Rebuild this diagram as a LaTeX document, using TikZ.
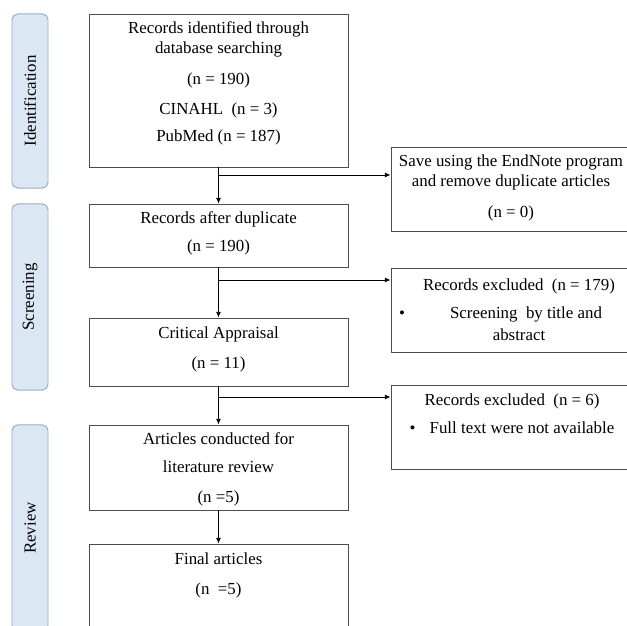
\documentclass[tikz,border=0pt]{standalone}
\usepackage{fontspec}
\setmainfont{Liberation Serif}
\usetikzlibrary{arrows.meta,fit}

\definecolor{sidefill}{RGB}{220,231,244}
\definecolor{sideline}{RGB}{150,174,200}

\tikzset{
  box/.style={draw=black!70, line width=0.7pt, inner sep=0pt},
  sidebox/.style={draw=sideline, fill=sidefill, line width=0.7pt, rounded corners=4pt,
    rotate=90, minimum height=0.9cm, inner sep=0pt},
  txt/.style={align=center, inner sep=0pt},
  arr/.style={-{Latex[length=4pt,width=3.5pt]}, line width=0.6pt},
}

\begin{document}
\begin{tikzpicture}[x=0.025cm, y=-0.025cm, font=\fontsize{12}{14.4}\selectfont]
  \useasboundingbox (0,0) rectangle (627,626);

  % stage labels on the left
  \node[sidebox, minimum width=4.35cm] (sid) at (30,101) {Identification};
  \node[sidebox, minimum width=4.65cm] (sscr) at (30,297) {Screening};
  \node[sidebox, minimum width=5.15cm] (srev) at (30,528) {Review};

  % main column
  \node[box, fit={(89,14) (348,167)}] (b1) {};
  \node[box, fit={(89,204) (348,267)}] (b2) {};
  \node[box, fit={(89,318) (348,386)}] (b3) {};
  \node[box, fit={(89,425) (348,510)}] (b4) {};
  \node[box, fit={(89,544) (348,640)}] (b5) {};

  \node[txt] (t1) at (218.5,83.5) {Records identified through\\database searching\\[7.1pt]
    (n = 190)\\[7.1pt] CINAHL\ \ (n = 3)\\[5pt] PubMed (n = 187)};
  \node[txt] (t2) at (218.5,233) {Records after duplicate\\[5.6pt] (n = 190)};
  \node[txt] (t3) at (218.5,349) {Critical Appraisal\\[7pt] (n = 11)};
  \node[txt] (t4) at (218.5,469) {Articles conducted for\\[5.6pt] literature review\\[7pt] (n =5)};
  \node[txt] (t5) at (218.5,575) {Final articles\\[7pt] (n\ \ =5)};

  % excluded records on the right
  \node[box, fit={(391,147) (634,231)}] (r1) {};
  \node[box, fit={(391,268) (634,352)}] (r2) {};
  \node[box, fit={(391,385) (634,469)}] (r3) {};

  \node[txt] (u1) at (511,187.5) {Save using the EndNote program\\[0.5pt]
    and remove duplicate articles\\[7pt] (n = 0)};
  \node[txt] (u2) at (519,310) {Records excluded\ \ (n = 179)\\[5.6pt]
    \hspace*{10pt}\llap{\textbullet\hspace{32pt}}Screening\ \ by title and\\[1.2pt] abstract};
  \node[txt] (u3) at (512,414) {Records excluded\ \ (n = 6)\\[5.6pt]
    \textbullet\hspace{10pt}Full text were not available};

  % connectors
  \coordinate (j1) at (218.5,175);
  \coordinate (j2) at (218.5,280);
  \coordinate (j3) at (218.5,397);

  \draw[arr] (b1) -- (b2);
  \draw[arr] (b2) -- (b3);
  \draw[arr] (b3) -- (b4);
  \draw[arr] (b4) -- (b5);
  \draw[arr] (j1) -- (j1 -| r1.west);
  \draw[arr] (j2) -- (j2 -| r2.west);
  \draw[arr] (j3) -- (j3 -| r3.west);
\end{tikzpicture}
\end{document}
